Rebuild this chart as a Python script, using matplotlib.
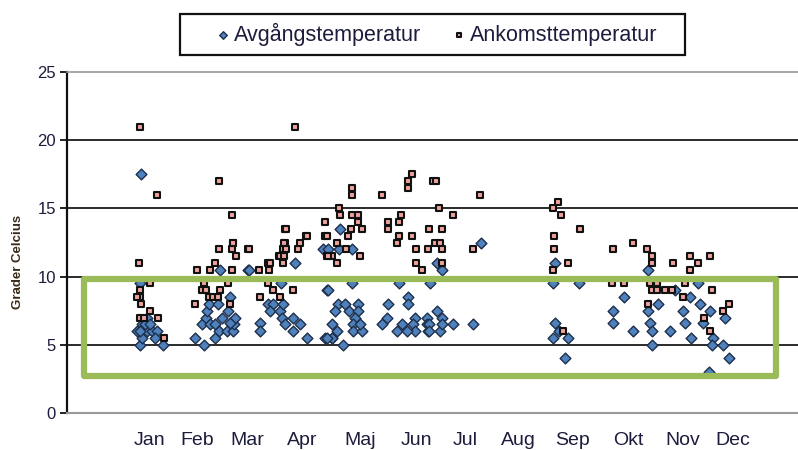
import matplotlib
matplotlib.use("Agg")
import matplotlib.pyplot as plt
from matplotlib.patches import Rectangle

plt.rcParams['font.family'] = ['Liberation Sans', 'DejaVu Sans']

# Month labels and their positions along the x scale
months = ["Jan", "Feb", "Mar", "Apr", "Maj", "Jun", "Jul", "Aug", "Sep", "Okt", "Nov", "Dec"]
month_pos = [150, 197, 247, 302, 360, 416, 465, 518, 573, 628, 683, 733]

# Avgångstemperatur (diamonds)
avg_x = [141, 140, 140, 142, 137, 147, 152, 157, 142, 155, 163, 147, 140, 145, 150,
         195, 204, 202, 206, 207, 209, 210, 215, 215, 219, 218, 220, 222, 228, 230, 227, 233, 234, 235, 248, 230,
         249, 260, 260, 268, 273, 270, 280, 283, 282, 285, 293, 293, 300, 307, 325, 332, 327, 323, 295, 281,
         340, 339, 352, 328, 352, 328, 338, 345, 358, 335, 349, 358, 355, 332, 337, 332, 327, 353, 353, 362, 360, 343,
         388, 387, 382, 399, 408, 408, 402, 397, 415, 413, 415, 407, 427, 427, 428, 430, 437, 442, 437, 442,
         429, 429, 440, 442, 453, 473, 481,
         555, 553, 579, 555, 559, 553, 568, 565,
         613, 613, 624, 633, 648, 698, 675, 690, 658, 700, 648, 683, 710, 725, 650, 685, 703, 652, 670,
         691, 713, 652, 712, 723, 729, 709]
avg_y = [17.5, 9.5, 5.0, 6.5, 6.0, 6.0, 6.0, 6.0, 5.5, 5.5, 5.0, 7.0, 6.0, 6.5, 6.5,
         5.5, 5.0, 6.5, 7.0, 7.5, 8.0, 6.5, 6.5, 5.5, 6.0, 8.0, 10.5, 7.0, 7.5, 8.5, 6.0, 6.0, 6.5, 7.0, 10.5, 6.6,
         10.5, 6.6, 6.0, 8.0, 8.0, 7.5, 7.5, 8.0, 7.0, 6.5, 7.0, 6.0, 6.5, 5.5, 5.5, 5.5, 9.0, 12.0, 11.0, 9.5,
         13.5, 12.0, 12.0, 12.0, 9.5, 9.0, 8.0, 8.0, 8.0, 7.5, 7.5, 7.5, 7.0, 6.5, 6.0, 5.5, 5.5, 6.5, 6.0, 6.0, 6.5, 5.0,
         8.0, 7.0, 6.5, 9.5, 8.5, 8.0, 6.5, 6.0, 7.0, 6.5, 6.0, 6.0, 7.0, 6.5, 6.0, 9.5, 11.0, 10.5, 7.5, 7.0,
         6.5, 6.0, 6.0, 6.5, 6.5, 6.5, 12.5,
         11.0, 9.5, 9.5, 6.6, 6.0, 5.5, 5.5, 4.0,
         7.5, 6.6, 8.5, 6.0, 10.5, 9.5, 9.0, 8.5, 8.0, 8.0, 7.5, 7.5, 7.5, 7.0, 6.6, 6.6, 6.6, 6.0, 6.0,
         5.5, 5.5, 5.0, 5.0, 5.0, 4.0, 3.0]

# Ankomsttemperatur (squares)
ank_x = [140, 157, 139, 150, 140, 140, 141, 140, 144, 150, 158, 164, 137,
         197, 195, 204, 202, 206, 210, 209, 213, 218, 215, 220, 219, 230, 228, 232, 233, 232, 236, 248, 232, 219,
         259, 260, 268, 269, 268, 273, 280, 279, 283, 283, 285, 285, 293, 298, 300, 306, 295, 286, 325, 325, 307,
         284, 286, 280, 284, 270, 249, 233, 327, 332,
         352, 352, 382, 412, 408, 408, 339, 340, 352, 358, 358, 351, 362, 348, 327, 337, 328, 346, 360, 337,
         388, 388, 401, 399, 399, 397, 412, 429, 416, 416, 422, 428, 433,
         436, 480, 439, 453, 442, 435, 440, 442, 473, 442,
         558, 553, 561, 580, 554, 554, 568, 553, 563,
         613, 633, 612, 624, 647, 652, 652, 690, 673, 698, 710, 690, 650, 657, 652, 657, 665, 672, 685, 683, 712,
         648, 729, 723, 704, 710]
ank_y = [21.0, 16.0, 11.0, 9.5, 9.0, 8.5, 8.0, 7.0, 7.0, 7.5, 7.0, 5.5, 8.5,
         10.5, 8.0, 9.5, 9.0, 9.0, 10.5, 8.5, 8.5, 8.5, 11.0, 9.0, 12.0, 8.0, 9.5, 10.5, 12.5, 12.0, 11.5, 12.0, 14.5, 17.0,
         10.5, 8.5, 11.0, 10.5, 9.5, 9.0, 8.5, 11.5, 11.0, 12.0, 12.5, 13.5, 9.0, 12.0, 12.5, 13.0, 21.0, 13.5, 14.0, 13.0, 13.0,
         12.5, 12.0, 11.5, 11.5, 11.0, 12.0, 12.5, 11.5, 11.5,
         16.5, 16.0, 16.0, 17.5, 17.0, 16.5, 15.0, 14.5, 14.5, 14.5, 14.0, 13.5, 13.5, 13.0, 13.0, 12.5, 11.5, 12.0, 11.5, 11.0,
         14.0, 13.5, 14.5, 14.0, 13.0, 12.5, 13.0, 13.5, 12.0, 11.0, 10.5, 12.0, 17.0,
         17.0, 16.0, 15.0, 14.5, 13.5, 12.5, 12.5, 12.0, 12.0, 11.0,
         15.5, 15.0, 14.5, 13.5, 13.0, 12.0, 11.0, 10.5, 6.0,
         12.0, 12.5, 9.5, 9.5, 12.0, 11.5, 11.0, 11.5, 11.0, 11.0, 11.5, 10.5, 9.5, 9.5, 9.0, 9.0, 9.0, 9.0, 9.5, 8.5, 9.0,
         8.0, 8.0, 7.5, 7.0, 6.0]

yticks = [0, 5, 10, 15, 20, 25]
box_x0, box_x1 = 84, 776
box_y0, box_y1 = 2.7, 9.85

text_col = '#1c1c3c'
W, H = 798, 450

fig = plt.figure(figsize=(7.98, 4.5), dpi=100)
ax = fig.add_axes([67/W, 37/H, 1 - 67/W, 341/H])
ax.set_xlim(67, 798)
ax.set_ylim(0, 25)

for v in [5, 10, 15, 20]:
    ax.axhline(v, color='#1a1a1a', lw=1.3, zorder=1)

ax.scatter(avg_x, avg_y, marker='D', s=30, facecolor='#4f81bd', edgecolor='#1d2f4a',
           linewidths=1.0, zorder=3, label='Avgångstemperatur')
ax.scatter(ank_x, ank_y, marker='s', s=22, facecolor='#f0a39c', edgecolor='#111111',
           linewidths=1.5, zorder=4, label='Ankomsttemperatur')

ax.add_patch(Rectangle((box_x0, box_y0), box_x1 - box_x0, box_y1 - box_y0, fill=False,
                       edgecolor='#9bbb59', lw=4.5, joinstyle='round', zorder=6, clip_on=False))

ax.spines['right'].set_visible(False)
ax.spines['top'].set_color('#9a9a9a')
ax.spines['top'].set_linewidth(1.2)
ax.spines['bottom'].set_color('#9a9a9a')
ax.spines['bottom'].set_linewidth(1.5)
ax.spines['left'].set_color('#111111')
ax.spines['left'].set_linewidth(1.6)

ax.set_yticks(yticks)
ax.set_yticklabels([str(t) for t in yticks], fontsize=12, color=text_col)
ax.tick_params(axis='y', direction='out', length=5, width=1.3, color='#111111', pad=3)
ax.set_xticks(month_pos)
ax.set_xticklabels(months, fontsize=14, color=text_col)
ax.tick_params(axis='x', length=0, pad=14)

fig.text(18/W, 1 - 262/H, 'Grader Celcius', rotation=90, fontsize=9.5,
         fontweight='bold', color='#3a2a1a', ha='center', va='center')

# legend frame drawn in figure coordinates
fig.patches.append(Rectangle((180/W, 1 - 55/H), 505/W, 41/H, transform=fig.transFigure,
                             fill=True, facecolor='white', edgecolor='#111111', lw=1.6, zorder=5))
leg = fig.legend(loc='center', bbox_to_anchor=(436/W, 1 - 34.5/H),
                 ncol=2, fontsize=15.5, frameon=False,
                 handletextpad=0.1, columnspacing=1.35, markerscale=0.7, handlelength=0.8,
                 labelcolor=text_col)
leg.set_zorder(6)

fig.savefig('out.png', dpi=100)
